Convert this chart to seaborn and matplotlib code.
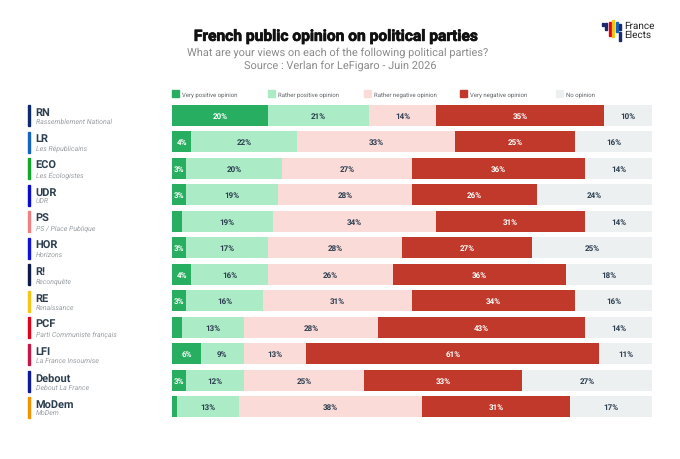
import matplotlib
matplotlib.use('Agg')
import matplotlib.pyplot as plt
from matplotlib.patches import Rectangle
import matplotlib.patheffects as pe
import pandas as pd
import seaborn as sns

parties = ['RN', 'LR', 'ECO', 'UDR', 'PS', 'HOR', 'R!', 'RE', 'PCF', 'LFI', 'Debout', 'MoDem']
full_names = ['Rassemblement National', 'Les Républicains', 'Les Écologistes', 'UDR',
              'PS / Place Publique', 'Horizons', 'Reconquête', 'Renaissance',
              'Parti Communiste français', 'La France Insoumise', 'Debout La France', 'MoDem']
party_colors = ['#0d2a6b', '#1565c0', '#12a82c', '#0a0ad0', '#f08080', '#1010e0',
                '#101a4a', '#f5c518', '#e3001b', '#c2184a', '#0a1a9a', '#f39200']

very_pos = [20, 4, 3, 3, 2, 3, 4, 3, 2, 6, 3, 1]
rather_pos = [21, 22, 20, 19, 19, 17, 16, 16, 13, 9, 12, 13]
rather_neg = [14, 33, 27, 28, 34, 28, 26, 31, 28, 13, 25, 38]
very_neg = [35, 25, 36, 26, 31, 27, 36, 34, 43, 61, 33, 31]
no_opinion = [10, 16, 14, 24, 14, 25, 18, 16, 14, 11, 27, 17]

opinions = ['Very positive opinion', 'Rather positive opinion', 'Rather negative opinion',
            'Very negative opinion', 'No opinion']
colors = ['#27ae60', '#abebc6', '#fadbd8', '#c0392b', '#ecf0f1']
text_colors = ['white', '#2c3e50', '#2c3e50', 'white', '#2c3e50']

df = pd.DataFrame(dict(zip(opinions, [very_pos, rather_pos, rather_neg, very_neg, no_opinion])), index=parties)

W, H = 680, 460
sns.set_style('white')
plt.rcParams['font.family'] = ['Roboto', 'DejaVu Sans']
plt.rcParams['text.hinting'] = 'no_hinting'
plt.rcParams['text.hinting_factor'] = 1

fig = plt.figure(figsize=(W / 100, H / 100), dpi=100)
ax = fig.add_axes([172 / W, 1 - 421 / H, 480 / W, 318 / H])


def fx(px):
    return px / W


def fy(py):
    return 1 - py / H


# stacked bars
left = pd.Series(0, index=parties)
for op, col, tc in zip(opinions, colors, text_colors):
    sns.barplot(x=df[op].values, y=parties, left=left.values, color=col, width=0.8,
                orient='h', ax=ax, saturation=1, order=parties, linewidth=0)
    for i, p in enumerate(parties):
        v = df.loc[p, op]
        if v >= 3:
            ax.text(left[p] + v / 2, i, f'{v}%', ha='center', va='center',
                    fontsize=6.0, fontweight='bold', color=tc)
    left = left + df[op]

ax.set_xlim(0, 100)
ax.set_ylim(11.5, -0.5)
ax.axis('off')

# party labels
for i, p in enumerate(parties):
    yc = 116.5 + i * 26.55
    fig.add_artist(Rectangle((fx(28.5), fy(yc + 10.5)), 2 / W, 21 / H, color=party_colors[i],
                             transform=fig.transFigure))
    fig.text(fx(35.5), fy(yc - 3.6), p, fontsize=7.6, fontweight='bold', color='#2c3e50', ha='left', va='center')
    fig.text(fx(35.5), fy(yc + 5.6), full_names[i], fontsize=5.0, style='italic', color='#9a9fa3',
             ha='left', va='center')

# legend
for i, (op, col) in enumerate(zip(opinions, colors)):
    lx = 172 + i * 96
    fig.add_artist(Rectangle((fx(lx), fy(98)), 7 / W, 7 / H, color=col, transform=fig.transFigure))
    fig.text(fx(lx + 10), fy(94.8), op, fontsize=4.4, color='#5f6468', ha='left', va='center')

# titles
fig.text(fx(340), fy(37.5), 'French public opinion on political parties', fontsize=11.2, fontweight='bold',
         color='#111111', ha='center', va='center',
         path_effects=[pe.withStroke(linewidth=0.5, foreground='#111111')])
fig.text(fx(338), fy(53), 'What are your views on each of the following political parties?', fontsize=7.6,
         color='#8a8a8a', ha='center', va='center')
fig.text(fx(340), fy(65.5), 'Source : Verlan for LeFigaro - Juin 2026', fontsize=7.6,
         color='#8a8a8a', ha='center', va='center')

# logo
logo_bars = [(602, 24, 27, '#1a2a6c'), (605, 24, 31, '#1a2a6c'), (608.5, 23, 37, '#e3001b'),
             (612, 21, 38, '#f5c518'), (615.5, 23, 33, '#1565c0'), (619, 25, 31, '#1a2a6c'),
             (619, 33, 42, '#1a2a6c')]
for x0, y0, y1, c in logo_bars:
    fig.add_artist(Rectangle((fx(x0), fy(y1)), 2 / W, (y1 - y0) / H, color=c, transform=fig.transFigure))
fig.text(fx(624), fy(26), 'France', fontsize=7.0, color='#222222', ha='left', va='center')
fig.text(fx(624), fy(35), 'Elects', fontsize=7.0, color='#222222', ha='left', va='center')

fig.savefig('out.png', dpi=100)
